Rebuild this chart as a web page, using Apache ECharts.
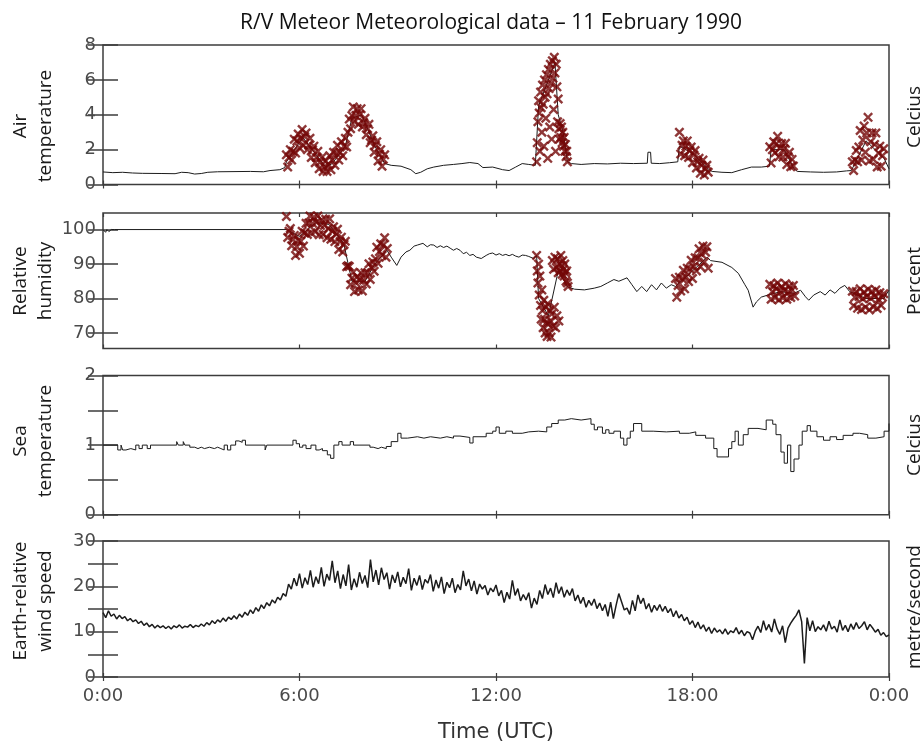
<!DOCTYPE html>
<html>
<head>
<meta charset="utf-8">
<script src="https://cdn.jsdelivr.net/npm/echarts@6/dist/echarts.min.js"></script>
<style>
  html, body { margin: 0; padding: 0; background: #fff; }
  #main { width: 924px; height: 744px; }
</style>
</head>
<body>
<div id="main"></div>
<script>
// time is in hours after 0:00 UTC
const timeTicks = [0, 6, 12, 18, 24];

// Air temperature (Celcius), main trace
const airTimes = [0,0.3,0.6,0.9,1.2,1.8,2.2,2.4,2.6,2.8,3.0,3.2,3.5,4.0,4.5,4.9,5.1,5.4,5.55,5.6,6.1,6.8,7.0,7.4,7.6,7.9,8.3,8.6,8.8,9.1,9.4,9.55,9.7,9.9,10.1,10.4,10.7,10.96,11.2,11.45,11.6,11.9,12.2,12.4,12.6,12.8,13.0,13.2,13.25,13.3,13.8,13.9,14.05,14.18,14.3,14.6,15.0,15.4,15.8,16.2,16.62,16.64,16.72,16.74,17.0,17.3,17.55,17.6,18.0,18.5,18.6,18.9,19.2,19.5,19.8,20.1,20.35,20.4,20.8,21.1,21.2,21.6,22.0,22.4,22.7,22.85,23.3,23.85,24];
const airTemp = [0.72,0.68,0.70,0.66,0.64,0.63,0.62,0.70,0.68,0.60,0.63,0.70,0.73,0.74,0.75,0.73,0.80,0.85,0.97,1.3,2.7,1.0,1.2,2.2,3.8,4.0,2.2,1.2,1.1,1.05,0.85,0.62,0.7,0.9,1.0,1.1,1.15,1.2,1.26,1.2,0.97,1.0,0.85,0.8,1.0,1.2,1.15,1.1,1.2,4.5,7.0,4.0,3.0,1.3,1.2,1.15,1.2,1.18,1.22,1.2,1.22,1.85,1.85,1.22,1.2,1.25,1.3,2.2,1.8,0.85,0.75,0.7,0.68,0.85,1.0,1.0,1.05,2.0,2.0,0.9,0.75,0.72,0.7,0.72,0.78,0.8,2.5,1.5,0.9];

// Air temperature, flagged samples (red crosses): start hour, step, values
const airFlagStart = [5.6, 6.92, 13.24, 17.6, 20.36, 22.88];
const airFlagStep = [0.04, 0.04, 0.02, 0.04, 0.04, 0.04];
const airFlag1 = [1.7,1.0,1.55,2.0,1.4,1.9,2.6,1.8,2.5,2.9,2.1,2.65,3.15,2.25,2.75,2.95,2.0,2.25,2.65,1.55,2.0,2.2,1.25,1.55,1.9,0.9,1.3,1.55,0.75,1.0,1.35,0.75,1.15];
const airFlag2 = [1.65,0.85,1.4,1.85,1.1,1.8,2.25,1.4,1.85,2.45,1.65,2.2,2.65,2.15,3.0,3.75,3.2,3.95,4.45,3.6,3.95,4.35,3.45,4.0,4.35,3.3,3.55,3.8,2.85,3.2,3.45,2.4,2.55,2.8,1.85,2.25,2.45,1.35,1.75,2.0,1.05,1.45,1.7];
const airFlag3 = [1.3,2.4,3.6,4.8,4.1,1.9,5.3,4.4,3.0,5.7,4.6,2.2,6.0,5.0,3.8,6.3,5.2,1.5,6.6,5.5,3.3,6.9,5.8,2.6,7.1,6.1,4.3,7.3,6.4,1.9,6.9,5.6,3.6,4.9,3.2,2.6,3.5,2.7,3.3,2.4,3.0,2.2,2.7,1.9,2.3,1.6,1.9,1.3];
const airFlag4 = [3.0,1.75,2.25,2.5,1.65,2.2,2.5,1.55,1.95,2.15,1.25,1.7,1.95,0.95,1.3,1.5,0.65,1.1,1.4,0.55,0.9,1.1,0.7];
const airFlag5 = [2.16,1.24,2.0,2.45,1.82,2.34,2.76,1.59,2.1,2.35,1.57,2.04,2.36,1.14,1.6,1.85,1.02,1.44,1.06];
const airFlag6 = [1.3,0.8,1.4,1.95,1.3,2.15,3.1,1.4,2.55,3.35,1.85,2.95,3.85,1.35,2.45,2.95,1.45,2.3,2.95,1.0,1.8,2.2,1.05,1.65,2.05];

// Relative humidity (percent), main trace
const humTimes = [0,0.08,0.12,0.18,0.25,0.3,0.35,0.4,5.6,6.0,6.5,6.9,7.35,7.6,8.0,8.3,8.67,8.8,8.97,9.1,9.25,9.37,9.5,9.6,9.77,9.9,10.0,10.1,10.2,10.3,10.4,10.5,10.6,10.7,10.8,10.9,11.0,11.1,11.2,11.3,11.4,11.55,11.7,11.8,11.9,12.0,12.1,12.2,12.3,12.4,12.5,12.6,12.7,12.8,12.9,13.0,13.15,13.24,13.3,13.6,13.9,14.2,14.4,14.7,15.0,15.2,15.4,15.6,15.75,16.0,16.15,16.3,16.45,16.6,16.75,16.9,17.05,17.2,17.35,17.48,18.0,18.45,18.55,18.9,19.2,19.4,19.6,19.7,19.85,19.95,20.1,20.3,20.7,21.1,21.3,21.45,21.55,21.7,21.9,22.05,22.2,22.35,22.5,22.65,22.8,23.3,23.85,23.9,24];
const humidity = [100,99.2,100,99.4,100,99.6,100,99.5,100,98,102,101.5,96,85,85,90,94,92,89.6,92,93.5,94,95.2,95.5,96,95,95.6,95.5,94.8,95.3,94.8,95.2,94.6,94,94.5,94,93,93.4,92.5,92.8,92,91.6,92.5,93,93.2,92.6,93,92.5,92.8,92.4,92.8,92.3,92,92.6,92.5,92.2,91.6,92.5,80,75,88,83.3,82.7,82.5,83,83.5,84.5,85.5,85,86,84,82,83.5,82,84,82.5,84.5,83,84,83.5,88,92,91,90.5,89,87.3,84,82.4,77.5,79,80.4,81,82,81.5,82.4,80.5,79.5,81,82,81,82.5,81.5,83,83.8,82,80,80,81,82.4];

// Relative humidity, flagged samples
const humFlagStart = [5.6, 6.92, 13.24, 17.48, 20.36, 22.88];
const humFlagStep = [0.04, 0.04, 0.02, 0.04, 0.04, 0.04];
const humFlag1 = [103.8,97.7,99.5,100.3,95.3,97.1,98.3,92.5,95.0,96.8,93.1,96.6,99.5,95.2,99.0,101.8,98.6,101.9,103.9,99.0,101.8,103.6,99.4,102.1,103.9,98.5,101.2,102.8,98.6,101.2,103.0,97.6,100.3];
const humFlag2 = [103.1,97.2,99.5,100.8,96.5,98.7,100.1,94.2,96.5,97.8,93.5,95.7,96.6,89.2,89.5,89.3,84.0,85.9,87.6,82.0,84.6,86.3,82.5,85.3,87.4,82.2,85.3,87.5,84.2,87.5,90.1,85.5,89.1,90.6,87.9,91.5,94.9,90.2,93.6,95.9,92.5,95.5,97.6,92.0,94.5];
const humFlag3 = [92.5,88.0,84.5,90.0,81.0,86.5,78.0,74.0,82.5,76.5,71.5,79.5,74.0,70.0,77.5,73.0,69.0,78.5,72.5,70.0,76.5,73.5,68.8,75.5,91.0,72.0,88.5,77.5,92.0,71.5,89.0,75.0,91.5,87.5,73.5,90.0,88.0,92.5,89.5,87.0,91.0,88.5,86.5,90.0,87.5,85.0,88.0,84.5,83.5];
const humFlag4 = [85.8,80.4,83.8,86.2,82.2,85.8,88.2,82.8,86.3,88.8,84.9,88.6,91.1,85.8,89.3,91.8,88.0,91.8,94.4,89.2,92.8,95.2,90.6,93.4,95.0,88.8];
const humFlag5 = [84.1,79.8,82.0,83.7,80.3,82.8,84.5,79.6,82.1,83.4,80.2,82.4,84.3,79.8,81.9,83.6,80.3,82.5,83.8,80.7];
const humFlag6 = [82.1,77.9,80.4,82.0,77.2,80.6,82.8,76.8,79.9,81.8,77.5,80.6,82.7,76.7,80.1,82.0,77.6,80.7,82.5,77.1,79.7,81.7,78.0,80.4,81.4];

// Sea temperature (Celcius)
const seaTimes = [0,0.45,0.55,0.6,0.7,0.85,1.0,1.1,1.2,1.35,1.45,2.25,2.3,2.45,2.5,2.65,2.8,2.9,3.0,3.1,3.25,3.4,3.5,3.6,3.7,3.8,3.9,4.05,4.15,4.25,4.35,4.95,5.0,5.8,5.9,6.0,6.1,6.2,6.35,6.5,6.6,6.7,6.85,6.95,7.05,7.2,7.3,7.55,7.65,8.15,8.25,8.4,8.5,8.65,8.8,9.0,9.1,9.3,9.6,9.8,10.0,10.3,10.5,10.7,10.9,11.2,11.3,11.7,11.9,12.0,12.1,12.3,12.5,12.8,13.0,13.3,13.55,13.7,13.9,14.1,14.3,14.6,14.9,15.0,15.1,15.25,15.35,15.45,15.6,15.8,15.9,16.0,16.1,16.2,16.45,16.8,17.2,17.6,17.9,18.1,18.4,18.65,18.75,19.1,19.2,19.3,19.4,19.55,19.7,20.0,20.25,20.45,20.55,20.7,20.8,20.9,21.0,21.1,21.25,21.35,21.5,21.6,21.8,22.0,22.2,22.4,22.6,22.9,23.1,23.35,23.6,23.85,24];
const seaTemp = [1.0,0.93,1.0,0.93,0.95,0.93,1.0,0.95,1.0,0.95,1.0,1.05,1.0,1.05,1.0,0.97,0.95,0.97,0.95,0.97,0.95,0.97,0.95,0.93,1.0,0.93,1.0,1.06,1.04,1.07,1.0,0.93,1.0,1.07,1.02,0.97,1.0,0.95,1.0,0.93,0.95,0.92,0.86,0.81,1.0,1.05,1.0,1.05,1.0,0.97,0.95,0.97,0.95,0.98,1.05,1.17,1.1,1.12,1.1,1.12,1.1,1.12,1.1,1.13,1.11,1.03,1.12,1.17,1.2,1.26,1.17,1.2,1.17,1.19,1.2,1.19,1.26,1.31,1.36,1.38,1.36,1.38,1.3,1.22,1.26,1.17,1.22,1.17,1.2,1.1,1.0,1.1,1.2,1.31,1.2,1.19,1.2,1.17,1.19,1.14,1.1,0.95,0.83,0.95,1.05,1.2,1.0,1.15,1.24,1.22,1.36,1.3,1.15,0.9,0.74,1.0,0.62,0.8,1.0,1.2,1.28,1.2,1.12,1.07,1.12,1.08,1.14,1.17,1.15,1.1,1.12,1.2,1.31];

// Earth-relative wind speed (metre/second), one value every 5 minutes
const windStep = 5 / 60;
const windSpeed = [
  14.2,13.1,14.6,13.4,13.9,12.8,13.6,12.9,13.3,12.4,12.9,12.2,
  12.6,11.8,12.3,11.4,11.9,11.1,11.6,10.8,11.4,10.9,11.3,10.7,
  11.2,10.6,11.3,10.9,11.5,10.8,11.2,11.0,11.6,10.9,11.4,11.1,
  11.7,11.2,12.0,11.5,12.4,11.8,12.6,12.1,13.0,12.3,13.2,12.7,
  13.5,12.8,13.9,13.2,14.3,13.6,14.8,14.0,15.3,14.5,15.9,15.1,
  16.4,15.7,17.0,16.3,17.6,17.0,18.4,17.8,20.5,19.4,21.8,20.1,
  22.8,19.6,21.9,20.4,23.5,19.8,22.1,20.6,24.2,20.0,22.7,21.3,
  25.6,20.8,23.4,19.5,22.6,20.1,24.8,19.2,21.7,19.8,23.1,20.6,
  22.4,19.7,25.9,21.0,23.6,20.3,24.1,21.5,23.0,19.4,22.5,20.8,
  23.2,19.9,22.0,20.6,23.9,19.1,21.8,20.2,22.4,19.3,21.5,20.7,
  22.6,18.9,21.4,19.6,22.1,18.4,20.9,19.7,21.8,18.6,20.4,19.2,
  23.4,20.1,21.6,19.0,21.2,18.3,20.5,19.4,20.2,18.1,19.6,18.8,
  20.3,17.9,19.1,16.4,18.7,17.2,21.3,18.0,19.5,16.8,18.2,17.0,
  18.6,15.2,17.4,16.0,19.1,17.3,20.4,18.2,19.6,17.5,20.8,18.4,
  19.9,17.6,19.2,18.0,19.5,16.8,18.1,16.2,17.6,15.4,16.9,15.8,
  17.2,15.1,16.3,14.6,16.0,13.4,16.5,12.9,15.8,18.4,16.6,14.8,
  15.2,13.8,16.9,14.6,18.1,16.2,17.4,15.0,16.2,14.3,15.8,14.7,
  16.0,14.5,15.6,14.2,15.1,13.3,14.6,13.0,13.8,12.4,13.2,11.6,
  12.4,10.9,12.1,10.6,11.5,10.1,11.0,9.6,10.8,9.9,10.4,9.5,
  10.6,9.4,10.2,9.8,10.9,9.5,10.3,9.1,10.0,9.7,8.2,10.1,
  11.2,9.8,12.4,10.3,11.6,9.9,12.8,10.6,9.4,11.3,7.6,10.8,
  11.9,12.8,13.6,14.8,12.2,3.0,13.1,10.2,12.4,10.0,11.1,10.4,
  11.5,10.1,12.3,10.6,11.2,9.9,12.6,10.3,11.4,10.0,11.7,10.5,
  12.0,10.7,11.3,12.2,10.4,11.6,10.8,9.9,10.5,9.2,9.8,8.9,
  9.3
];

// axis ranges and ticks per panel
const yMin = [0, 65.5, 0, 0];
const yMax = [8, 104.8, 2, 30];
const yTicks = [[0, 2, 4, 6, 8], [70, 80, 90, 100], [0, 0.5, 1, 1.5, 2], [0, 5, 10, 15, 20, 25, 30]];
const yLabels = [[0, 2, 4, 6, 8], [70, 80, 90, 100], [0, 1, 2], [0, 10, 20, 30]];
const leftNames = ['Air\ntemperature', 'Relative\nhumidity', 'Sea\ntemperature', 'Earth-relative\nwind speed'];
const rightNames = ['Celcius', 'Percent', 'Celcius', 'metre/second'];

const panelTop = [45, 213, 375.5, 541];
const panelHeight = [139.5, 135.5, 139.2, 136];
const leftNameY = [126, 281, 441, 601];
const rightNameY = [117, 281, 445, 607];

const frameColor = '#3c3c3c';
const labelColor = '#4a4a4a';
const lineColor = '#1c1c1c';
const flagColor = '#730606';
const tickFont = 'DejaVu Sans';
const nameFont = 'Open Sans';
// a bold "x" mark for the flagged samples
const crossPath = 'path://M0,1.7L1.7,0L5,3.3L8.3,0L10,1.7L6.7,5L10,8.3L8.3,10L5,6.7L1.7,10L0,8.3L3.3,5Z';

function pairs(times, values) {
  return times.map((t, i) => [t, values[i]]);
}

function flagged(starts, steps, groups) {
  const out = [];
  groups.forEach((g, k) => {
    g.forEach((v, j) => out.push([+(starts[k] + j * steps[k]).toFixed(3), v]));
  });
  return out;
}

const chart = echarts.init(document.getElementById('main'));

const grids = [];
const xAxes = [];
const yAxes = [];
const graphics = [];

for (let i = 0; i < 4; i++) {
  grids.push({
    left: 103, right: 35, top: panelTop[i], height: panelHeight[i],
    show: true, borderColor: frameColor, borderWidth: 1.5, backgroundColor: 'transparent'
  });
  // bottom and top time axes: short inward ticks, labels only on the last panel
  ['bottom', 'top'].forEach(pos => {
    xAxes.push({
      type: 'value', gridIndex: i, position: pos, min: 0, max: 24,
      axisLine: { show: false },
      splitLine: { show: false },
      axisTick: { inside: true, length: 4, customValues: timeTicks, lineStyle: { color: frameColor, width: 1.2 } },
      axisLabel: {
        show: i === 3 && pos === 'bottom',
        customValues: timeTicks,
        formatter: v => (v % 24) + ':00',
        margin: 10, color: labelColor, fontFamily: tickFont, fontSize: 18
      },
      name: i === 3 && pos === 'bottom' ? 'Time (UTC)' : '',
      nameLocation: 'middle', nameGap: 45,
      nameTextStyle: { color: '#333', fontFamily: tickFont, fontSize: 21 }
    });
  });
  // left (labelled) and right (ticks only) value axes
  ['left', 'right'].forEach(pos => {
    yAxes.push({
      type: 'value', gridIndex: i, position: pos, min: yMin[i], max: yMax[i],
      axisLine: { show: false },
      splitLine: { show: false },
      axisTick: { inside: true, length: 15, customValues: yTicks[i], lineStyle: { color: frameColor, width: 1.5 } },
      axisLabel: {
        show: pos === 'left',
        customValues: yLabels[i],
        margin: 7, color: labelColor, fontFamily: tickFont, fontSize: 18
      }
    });
  });
  graphics.push({
    type: 'text', x: 33, y: leftNameY[i], rotation: Math.PI / 2,
    style: { text: leftNames[i], fill: '#1a1a1a', fontFamily: nameFont, fontSize: 19, lineHeight: 25, align: 'center', verticalAlign: 'middle' }
  });
  graphics.push({
    type: 'text', x: 915, y: rightNameY[i], rotation: Math.PI / 2,
    style: { text: rightNames[i], fill: '#1a1a1a', fontFamily: nameFont, fontSize: 19, align: 'center', verticalAlign: 'middle' }
  });
}

graphics.push({
  type: 'text', x: 491, y: 23,
  style: { text: 'R/V Meteor Meteorological data \u2013 11 February 1990', fill: '#111', fontFamily: nameFont, fontSize: 21, align: 'center', verticalAlign: 'middle' }
});

const lineBase = { type: 'line', showSymbol: false, silent: true, z: 2 };
const crossBase = { type: 'scatter', symbol: crossPath, symbolSize: 10, silent: true, z: 3, itemStyle: { color: flagColor } };

const option = {
  backgroundColor: '#fff',
  animation: false,
  grid: grids,
  xAxis: xAxes,
  yAxis: yAxes,
  graphic: graphics,
  series: [
    { ...lineBase, xAxisIndex: 0, yAxisIndex: 0, data: pairs(airTimes, airTemp), lineStyle: { color: lineColor, width: 1 } },
    { ...crossBase, xAxisIndex: 0, yAxisIndex: 0,
      data: flagged(airFlagStart, airFlagStep, [airFlag1, airFlag2, airFlag3, airFlag4, airFlag5, airFlag6]) },
    { ...lineBase, xAxisIndex: 2, yAxisIndex: 2, data: pairs(humTimes, humidity), lineStyle: { color: lineColor, width: 1 } },
    { ...crossBase, xAxisIndex: 2, yAxisIndex: 2,
      data: flagged(humFlagStart, humFlagStep, [humFlag1, humFlag2, humFlag3, humFlag4, humFlag5, humFlag6]) },
    { ...lineBase, xAxisIndex: 4, yAxisIndex: 4, step: 'end', data: pairs(seaTimes, seaTemp), lineStyle: { color: lineColor, width: 1 } },
    { ...lineBase, xAxisIndex: 6, yAxisIndex: 6, data: windSpeed.map((v, i) => [i * windStep, v]), lineStyle: { color: lineColor, width: 1.5 } }
  ]
};

chart.setOption(option);
</script>
</body>
</html>
